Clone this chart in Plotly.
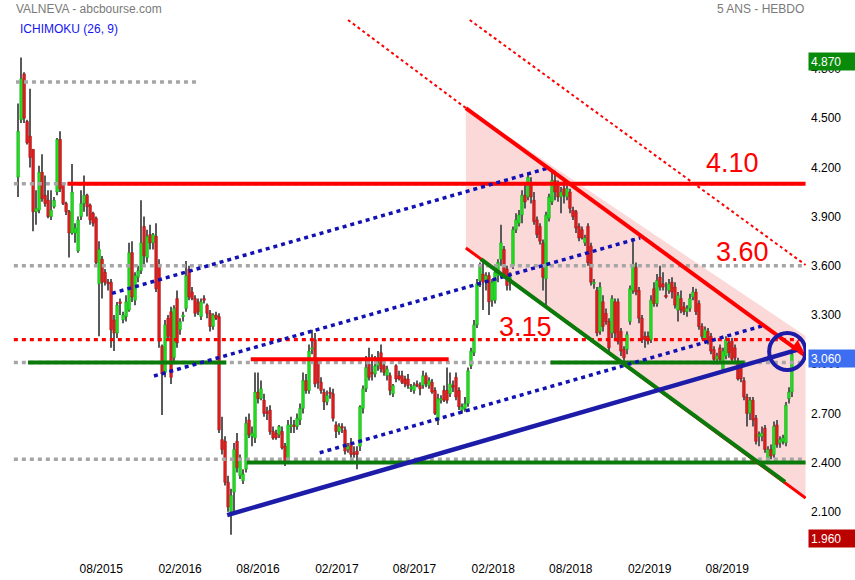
import pandas as pd
import plotly.graph_objects as go

# ---------------------------------------------------------------- data
# weekly candles (Monday of each week)
weeks = pd.date_range("2015-01-19", periods=259, freq="7D")

open_ = [4.14, 4.49, 4.77, 4.48, 4.39, 4.31, 3.93, 3.94, 4.17, 4.03, 4.00, 3.90, 3.96, 4.05, 4.37, 4.10, 3.98, 3.93, 3.80, 3.80,
         3.69, 3.90, 3.98, 4.03, 3.97, 3.92, 3.89, 3.49, 3.64, 3.56, 3.50, 3.50, 3.27, 3.19, 3.38, 3.27, 3.29, 3.33, 3.68, 3.39,
         3.53, 3.57, 3.84, 3.65, 3.79, 3.74, 3.78, 3.61, 3.11, 2.95, 3.28, 3.32, 3.04, 3.40, 3.21, 3.29, 3.34, 3.58, 3.44, 3.40,
         3.38, 3.29, 3.40, 3.36, 3.31, 3.23, 3.30, 3.29, 2.54, 2.53, 2.28, 2.10, 2.22, 2.53, 2.32, 2.29, 2.36, 2.66, 2.56, 2.55,
         2.83, 2.79, 2.78, 2.71, 2.72, 2.59, 2.58, 2.57, 2.59, 2.50, 2.41, 2.62, 2.63, 2.62, 2.66, 2.73, 2.90, 2.84, 3.09, 3.15,
         3.02, 2.89, 2.83, 2.77, 2.83, 2.82, 2.63, 2.59, 2.62, 2.60, 2.48, 2.52, 2.46, 2.47, 2.50, 2.73, 2.85, 3.00, 2.95, 2.94,
         2.99, 3.07, 2.99, 2.93, 2.93, 2.82, 2.99, 2.93, 2.93, 2.91, 2.91, 2.85, 2.84, 2.88, 2.87, 2.87, 2.93, 2.87, 2.89, 2.84,
         2.66, 2.78, 2.84, 2.84, 2.82, 2.87, 2.92, 2.84, 2.72, 2.73, 2.76, 2.99, 3.07, 3.24, 3.51, 3.55, 3.50, 3.54, 3.39, 3.39,
         3.54, 3.64, 3.70, 3.58, 3.50, 3.60, 3.82, 3.86, 3.91, 4.03, 4.02, 4.10, 4.00, 3.88, 3.84, 3.74, 3.52, 3.89, 3.99, 4.12,
         4.10, 4.02, 4.07, 4.02, 4.05, 3.94, 3.93, 3.84, 3.82, 3.74, 3.84, 3.72, 3.49, 3.45, 3.20, 3.38, 3.31, 3.26, 3.19, 3.38,
         3.38, 3.20, 3.09, 3.09, 3.26, 3.45, 3.59, 3.45, 3.28, 3.17, 3.17, 3.15, 3.46, 3.37, 3.53, 3.49, 3.42, 3.45, 3.50, 3.47,
         3.33, 3.40, 3.35, 3.32, 3.34, 3.41, 3.44, 3.37, 3.23, 3.15, 3.20, 3.17, 3.09, 3.03, 3.10, 2.97, 3.05, 3.13, 3.14, 3.10,
         3.02, 2.99, 2.90, 2.80, 2.70, 2.78, 2.67, 2.56, 2.56, 2.61, 2.42, 2.48, 2.45, 2.63, 2.52, 2.53, 2.52, 2.79, 2.83]

high = [4.59, 4.87, 4.78, 4.49, 4.68, 4.31, 4.06, 4.21, 4.28, 4.15, 4.06, 4.06, 4.02, 4.38, 4.42, 4.11, 3.99, 3.94, 4.22, 3.86,
        3.90, 4.06, 4.15, 4.04, 3.98, 3.93, 3.90, 3.75, 3.66, 3.58, 3.52, 3.52, 3.30, 3.38, 3.40, 3.32, 3.42, 3.74, 3.75, 3.56,
        3.60, 4.00, 3.90, 3.82, 3.85, 3.80, 3.86, 3.64, 3.12, 3.27, 3.30, 3.35, 3.36, 3.45, 3.28, 3.32, 3.63, 3.60, 3.47, 3.42,
        3.40, 3.40, 3.42, 3.37, 3.33, 3.31, 3.32, 3.31, 2.68, 2.56, 2.32, 2.24, 2.52, 2.58, 2.45, 2.36, 2.68, 2.70, 2.62, 2.95,
        2.95, 2.90, 2.82, 2.74, 2.75, 2.62, 2.60, 2.63, 2.62, 2.52, 2.66, 2.68, 2.66, 2.70, 2.76, 2.95, 2.94, 3.12, 3.21, 3.19,
        3.04, 2.92, 2.85, 2.84, 2.86, 2.85, 2.65, 2.64, 2.64, 2.62, 2.52, 2.55, 2.50, 2.50, 2.75, 2.87, 3.05, 3.10, 3.06, 3.05,
        3.08, 3.12, 3.02, 2.99, 2.95, 2.88, 3.00, 2.96, 2.96, 2.93, 2.94, 2.88, 2.89, 2.90, 2.89, 2.96, 2.95, 2.92, 2.91, 2.86,
        2.82, 2.81, 2.87, 2.98, 2.95, 2.90, 2.95, 2.86, 2.76, 2.80, 2.98, 3.10, 3.27, 3.52, 3.62, 3.63, 3.56, 3.56, 3.52, 3.58,
        3.64, 3.85, 3.72, 3.60, 3.56, 3.84, 3.92, 3.94, 4.06, 4.10, 4.17, 4.14, 4.05, 3.90, 3.86, 3.76, 3.93, 4.04, 4.18, 4.18,
        4.12, 4.08, 4.12, 4.10, 4.07, 3.96, 3.94, 3.86, 3.84, 3.79, 3.86, 3.74, 3.52, 3.47, 3.50, 3.42, 3.34, 3.28, 3.42, 3.40,
        3.40, 3.22, 3.11, 3.20, 3.48, 3.77, 3.62, 3.47, 3.30, 3.20, 3.20, 3.42, 3.50, 3.55, 3.60, 3.56, 3.50, 3.52, 3.53, 3.50,
        3.44, 3.45, 3.38, 3.36, 3.43, 3.47, 3.46, 3.39, 3.25, 3.23, 3.22, 3.19, 3.11, 3.07, 3.12, 3.10, 3.17, 3.15, 3.16, 3.12,
        3.04, 3.01, 2.92, 2.82, 2.80, 2.80, 2.69, 2.59, 2.62, 2.63, 2.50, 2.51, 2.65, 2.66, 2.56, 2.57, 2.77, 2.86, 3.07]

low = [4.02, 4.47, 4.47, 4.34, 4.20, 3.81, 3.85, 3.92, 3.99, 3.96, 3.89, 3.88, 3.95, 4.03, 4.05, 3.97, 3.91, 3.65, 3.79, 3.74,
       3.68, 3.88, 3.93, 3.90, 3.85, 3.84, 3.60, 3.17, 3.40, 3.48, 3.45, 3.10, 3.08, 3.16, 3.30, 3.25, 3.26, 3.32, 3.38, 3.36,
       3.50, 3.55, 3.60, 3.62, 3.70, 3.70, 3.44, 3.10, 2.69, 2.92, 3.15, 2.88, 3.00, 3.10, 3.18, 3.26, 3.32, 3.39, 3.39, 3.29,
       3.30, 3.27, 3.37, 3.28, 3.20, 3.21, 3.27, 2.58, 2.45, 2.26, 2.10, 1.96, 2.08, 2.34, 2.30, 2.27, 2.34, 2.55, 2.50, 2.52,
       2.76, 2.78, 2.68, 2.66, 2.57, 2.54, 2.54, 2.55, 2.48, 2.38, 2.40, 2.58, 2.58, 2.60, 2.63, 2.70, 2.82, 2.82, 3.06, 2.86,
       2.85, 2.82, 2.72, 2.75, 2.79, 2.65, 2.55, 2.57, 2.58, 2.45, 2.46, 2.43, 2.43, 2.36, 2.47, 2.70, 2.83, 2.90, 2.90, 2.92,
       2.96, 2.95, 2.93, 2.90, 2.81, 2.80, 2.89, 2.90, 2.88, 2.86, 2.85, 2.83, 2.82, 2.86, 2.81, 2.85, 2.86, 2.85, 2.82, 2.69,
       2.63, 2.76, 2.77, 2.76, 2.80, 2.83, 2.78, 2.72, 2.70, 2.71, 2.74, 2.97, 3.05, 3.22, 3.47, 3.33, 3.45, 3.30, 3.35, 3.37,
       3.50, 3.60, 3.53, 3.45, 3.45, 3.58, 3.80, 3.84, 3.86, 3.95, 4.00, 3.98, 3.85, 3.77, 3.73, 3.45, 3.36, 3.87, 3.97, 4.00,
       3.99, 3.92, 3.98, 4.00, 3.92, 3.88, 3.80, 3.75, 3.76, 3.72, 3.60, 3.48, 3.46, 3.17, 3.18, 3.20, 3.24, 3.06, 3.16, 3.16,
       3.12, 3.05, 3.02, 3.06, 3.24, 3.43, 3.42, 3.25, 3.13, 3.10, 3.12, 3.13, 3.35, 3.35, 3.45, 3.45, 3.40, 3.43, 3.40, 3.34,
       3.26, 3.31, 3.30, 3.29, 3.32, 3.39, 3.30, 3.21, 3.15, 3.13, 3.12, 3.06, 3.00, 3.00, 3.01, 2.95, 3.03, 3.04, 3.02, 3.02,
       2.90, 2.89, 2.78, 2.62, 2.66, 2.62, 2.51, 2.50, 2.53, 2.46, 2.40, 2.42, 2.43, 2.49, 2.49, 2.51, 2.50, 2.76, 2.80]

close = [4.42, 4.74, 4.50, 4.35, 4.26, 3.93, 3.95, 4.17, 4.01, 3.98, 3.90, 3.94, 4.00, 4.37, 4.07, 3.98, 3.93, 3.80, 4.05, 3.83,
         3.88, 3.98, 4.03, 3.96, 3.88, 3.86, 3.62, 3.70, 3.50, 3.50, 3.49, 3.21, 3.19, 3.36, 3.37, 3.30, 3.38, 3.68, 3.41, 3.54,
         3.57, 3.74, 3.66, 3.78, 3.74, 3.79, 3.46, 3.14, 2.94, 3.24, 3.17, 2.92, 3.34, 3.13, 3.26, 3.30, 3.54, 3.41, 3.40, 3.31,
         3.32, 3.38, 3.39, 3.31, 3.23, 3.30, 3.28, 2.60, 2.48, 2.28, 2.13, 2.20, 2.48, 2.37, 2.43, 2.33, 2.64, 2.57, 2.58, 2.83,
         2.79, 2.85, 2.70, 2.70, 2.59, 2.55, 2.55, 2.62, 2.49, 2.40, 2.63, 2.63, 2.62, 2.67, 2.73, 2.90, 2.84, 3.08, 3.10, 2.88,
         2.89, 2.84, 2.77, 2.81, 2.82, 2.67, 2.59, 2.62, 2.61, 2.47, 2.50, 2.45, 2.45, 2.45, 2.74, 2.85, 2.98, 2.92, 2.94, 2.99,
         3.01, 2.97, 2.95, 2.97, 2.84, 2.87, 2.91, 2.91, 2.89, 2.88, 2.87, 2.86, 2.87, 2.87, 2.85, 2.93, 2.88, 2.90, 2.83, 2.70,
         2.79, 2.79, 2.78, 2.78, 2.88, 2.86, 2.80, 2.74, 2.74, 2.76, 2.96, 3.08, 3.24, 3.49, 3.59, 3.50, 3.54, 3.38, 3.50, 3.56,
         3.62, 3.74, 3.55, 3.48, 3.53, 3.82, 3.88, 3.91, 4.03, 3.99, 4.14, 4.02, 3.87, 3.79, 3.75, 3.53, 3.91, 4.02, 4.12, 4.05,
         4.02, 4.05, 4.03, 4.07, 3.95, 3.90, 3.83, 3.77, 3.77, 3.77, 3.62, 3.50, 3.50, 3.19, 3.47, 3.23, 3.26, 3.10, 3.40, 3.19,
         3.14, 3.08, 3.04, 3.18, 3.46, 3.61, 3.44, 3.28, 3.15, 3.15, 3.15, 3.39, 3.37, 3.51, 3.47, 3.47, 3.41, 3.49, 3.44, 3.36,
         3.42, 3.33, 3.32, 3.34, 3.40, 3.44, 3.32, 3.23, 3.17, 3.21, 3.14, 3.08, 3.03, 3.05, 3.03, 3.08, 3.15, 3.07, 3.03, 3.04,
         2.91, 2.91, 2.80, 2.70, 2.78, 2.66, 2.53, 2.57, 2.58, 2.48, 2.48, 2.44, 2.62, 2.51, 2.54, 2.55, 2.75, 2.83, 3.06]

# price references shown on the right edge
last_close = 3.06
max_high = 4.87
min_low = 1.96

# drawn levels: (price, start, end)
gray_levels = [
    (4.72, "2015-01-14", "2016-03-18"),
    (4.10, "2015-01-09", "2020-01-31"),
    (3.60, "2015-01-09", "2020-01-31"),
    (3.01, "2015-01-09", "2020-01-31"),
    (2.42, "2015-01-09", "2020-01-31"),
]
resistance_410 = (4.10, "2015-05-14", "2020-01-31")
resistance_315 = (3.15, "2015-01-09", "2020-01-31")
resistance_303 = (3.03, "2016-07-15", "2017-10-20")
support_levels = [
    (3.01, "2015-02-11", "2016-05-19"),
    (3.01, "2018-06-15", "2019-09-11"),
    (2.40, "2016-07-06", "2020-01-31"),
]

# blue trend lines: (start date, start price, end date, end price)
blue_support = ("2016-05-21", 2.08, "2020-01-11", 3.087)
blue_channels = [
    ("2015-08-26", 3.432, "2018-06-09", 4.196),
    ("2015-12-02", 2.928, "2019-01-10", 3.770),
    ("2016-12-23", 2.460, "2019-10-24", 3.235),
]

# descending channel
chan_top = ("2017-11-29", 4.562, "2020-01-31", 3.050)
chan_top_ext = ("2017-02-27", 5.099, "2017-11-29", 4.562)
chan_upper = ("2017-12-08", 5.099, "2020-01-31", 3.605)
chan_bottom = ("2017-11-29", 3.709, "2020-01-31", 2.184)
chan_bottom_green = ("2018-01-03", 3.641, "2019-12-14", 2.282)
chan_fill_right_top = 3.172

# ---------------------------------------------------------------- layout geometry
W, H = 855, 580
L, R, T, B = 13, 806, 18, 548
Y_RANGE = [3.3 - (B - 315) / 164, 3.3 + (315 - T) / 164]
X_RANGE = ["2015-01-07", "2020-02-01"]


def px(xp):
    return (xp - L) / (R - L)


def py(yp):
    return (B - yp) / (B - T)


GREEN_UP = "#1fe01f"
RED_DN = "#e01e1e"
GRAY_DOT = "#a6a6a6"
RED = "#ff0000"
DARK_GREEN = "#0a7a0a"
BLUE = "#1c1ca8"
BLUE_DOT = "#1212b4"
DAY_MS = 86400000

fig = go.Figure()

# wicks (thin bars, drawn first so the bodies sit on top)
fig.add_trace(go.Bar(
    x=weeks,
    y=[h - l for h, l in zip(high, low)],
    base=low,
    width=2.2 * DAY_MS,
    marker=dict(color="#5a5a5a", line=dict(width=0)),
    hoverinfo="skip"))

# bodies
up = [c >= o for o, c in zip(open_, close)]
fig.add_trace(go.Bar(
    x=weeks,
    y=[abs(c - o) for o, c in zip(open_, close)],
    base=[min(o, c) for o, c in zip(open_, close)],
    width=6.3 * DAY_MS,
    marker=dict(color=[GREEN_UP if u else RED_DN for u in up],
                line=dict(color=["#149a14" if u else "#9a1414" for u in up], width=0.5)),
    hoverinfo="skip"))


def seg(x0, y0, x1, y1, color, width, dash="solid"):
    fig.add_trace(go.Scatter(x=[x0, x1], y=[y0, y1], mode="lines",
                             line=dict(color=color, width=width, dash=dash),
                             hoverinfo="skip"))


for p, a, b in gray_levels:
    seg(a, p, b, p, GRAY_DOT, 3.5, "4px,4px")

seg(resistance_315[1], resistance_315[0], resistance_315[2], resistance_315[0], RED, 3.2, "4px,4px")
seg(resistance_410[1], resistance_410[0], resistance_410[2], resistance_410[0], RED, 4)
seg(resistance_303[1], resistance_303[0], resistance_303[2], resistance_303[0], RED, 4)

for p, a, b in support_levels:
    seg(a, p, b, p, DARK_GREEN, 4)

for c in blue_channels:
    seg(c[0], c[1], c[2], c[3], BLUE_DOT, 3.5, "4px,4px")

seg(*chan_bottom, RED, 3)
seg(*chan_bottom_green, DARK_GREEN, 4)
seg(*chan_top_ext, RED, 2, "3px,3px")
seg(*chan_upper, RED, 2, "3px,3px")
seg(*chan_top, RED, 4)
seg(*blue_support, BLUE, 4.5)

# ---------------------------------------------------------------- annotations
ann = []
ann.append(dict(text="VALNEVA - abcbourse.com", x=px(14), y=py(9), xref="paper", yref="paper",
                xanchor="left", yanchor="middle", showarrow=False,
                font=dict(size=12, color="#7a7a7a")))
ann.append(dict(text="5 ANS - HEBDO", x=px(806), y=py(9), xref="paper", yref="paper",
                xanchor="right", yanchor="middle", showarrow=False,
                font=dict(size=12, color="#7a7a7a")))
ann.append(dict(text="ICHIMOKU (26, 9)", x=px(18), y=py(29), xref="paper", yref="paper",
                xanchor="left", yanchor="middle", showarrow=False,
                font=dict(size=12, color="#1515ee")))

for txt, cx, cy in [("4.10", 732, 163), ("3.60", 742, 252), ("3.15", 525, 327)]:
    ann.append(dict(text=txt, x=px(cx), y=py(cy), xref="paper", yref="paper",
                    xanchor="center", yanchor="middle", showarrow=False,
                    font=dict(size=27, color=RED)))

for val, bg in [(max_high, "#0a8a0a"), (last_close, "#3d6ef2"), (min_low, "#bb0000")]:
    ann.append(dict(text=f"{val:.3f}", x=px(808), y=val, xref="paper", yref="y",
                    xanchor="left", yanchor="middle", yshift=-4, showarrow=False,
                    bgcolor=bg, width=43, height=13, borderpad=2, align="left",
                    font=dict(size=12, color="white")))

# arrow tip at the end of the descending line
ann.append(dict(x="2020-01-27", y=3.075, xref="x", yref="y", ax=-11, ay=-8,
                showarrow=True, arrowhead=2, arrowsize=1.2, arrowwidth=2,
                arrowcolor=RED, text=""))

# channel shading, kept under the candles
chan_path = "M{},{} L{},{} L{},{} L{},{} Z".format(
    chan_top[0], chan_top[1], chan_top[2], chan_fill_right_top,
    chan_bottom[2], chan_bottom[3], chan_bottom[0], chan_bottom[1])

fig.update_layout(
    width=W, height=H,
    margin=dict(l=L, r=W - R, t=T, b=H - B, pad=0),
    paper_bgcolor="white", plot_bgcolor="white",
    showlegend=False, barmode="overlay",
    font=dict(family="Liberation Sans, Arial, sans-serif", size=12, color="black"),
    annotations=ann,
    shapes=[
        dict(type="path", xref="x", yref="y", path=chan_path, layer="below",
             fillcolor="#fbd9d9", line=dict(width=0)),
        dict(type="circle", xref="x", yref="y",
             x0="2019-11-07", x1="2020-01-31", y0=2.965, y1=3.19,
             line=dict(color=BLUE, width=4)),
    ],
    xaxis=dict(type="date", range=X_RANGE, showgrid=False, zeroline=False, showline=False,
               ticks="", tickvals=["2015-08-01", "2016-02-01", "2016-08-01", "2017-02-01",
                                    "2017-08-01", "2018-02-01", "2018-08-01", "2019-02-01",
                                    "2019-08-01"],
               ticktext=["08/2015", "02/2016", "08/2016", "02/2017", "08/2017", "02/2018",
                         "08/2018", "02/2019", "08/2019"],
               ticklabelstandoff=12, automargin=False, fixedrange=True),
    yaxis=dict(range=Y_RANGE, side="right", showgrid=False, zeroline=False, showline=False,
               ticks="", tickvals=[2.1, 2.4, 2.7, 3.0, 3.3, 3.6, 3.9, 4.2, 4.5, 4.8],
               tickformat=".3f", ticklabelstandoff=4, automargin=False, fixedrange=True),
)

fig.write_html("out.html")
